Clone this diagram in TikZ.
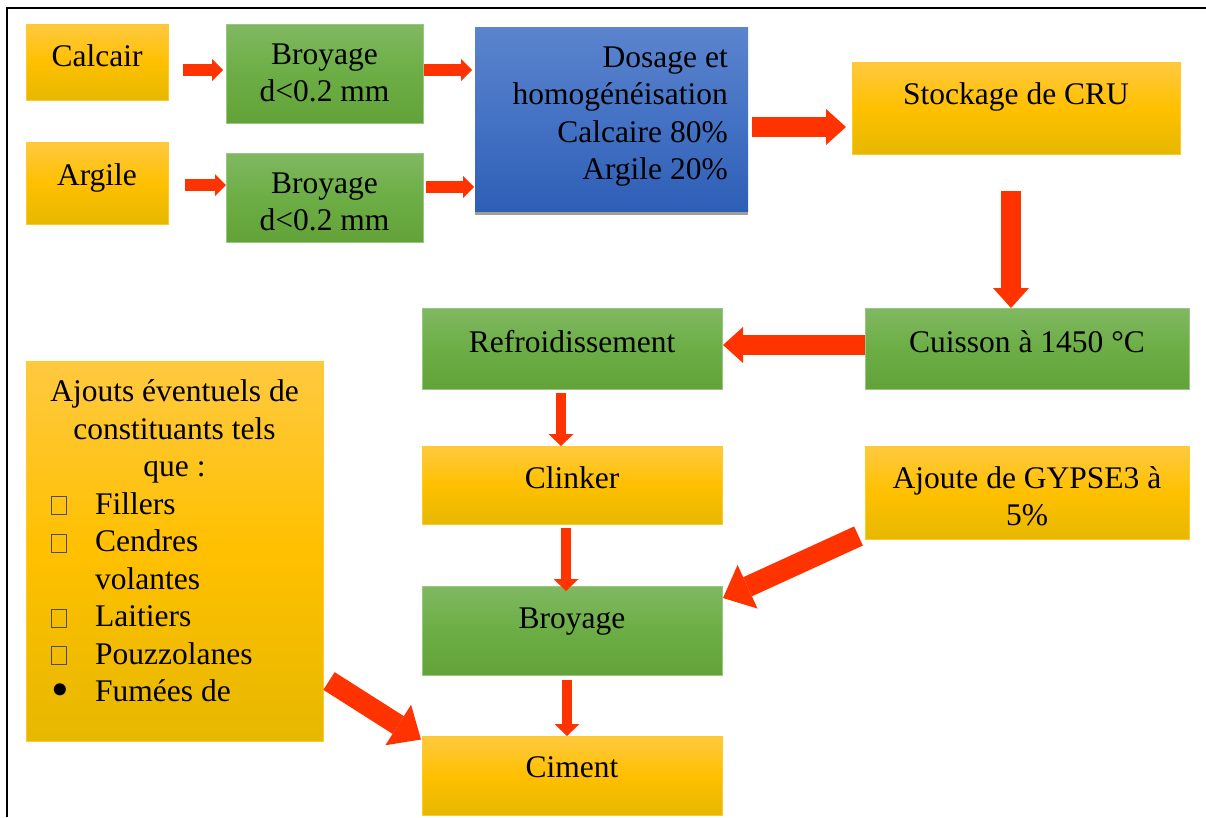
\documentclass[tikz,border=0pt]{standalone}
\usepackage{fontspec}
\setmainfont{Liberation Serif}
\newfontfamily\lserif{Liberation Serif}
\usetikzlibrary{arrows.meta}
\definecolor{ared}{HTML}{FF3300}
\definecolor{oTop}{HTML}{FFC940}
\definecolor{oMid}{HTML}{FFC000}
\definecolor{oBot}{HTML}{E6B800}
\definecolor{gTop}{HTML}{80B862}
\definecolor{gMid}{HTML}{6CAE45}
\definecolor{gBot}{HTML}{62A239}
\definecolor{bTop}{HTML}{5B84CD}
\definecolor{bMid}{HTML}{4472C4}
\definecolor{bBot}{HTML}{2E5FB6}
\newcommand\fsz{\lserif\fontsize{31.5}{37.5}\selectfont}
\newcommand\sqbul{{\color{black!70}\fboxsep=0pt\fboxrule=0.8pt\fbox{\rule{0pt}{17pt}\hspace{14.4pt}}}}
\newcommand\dotbul{\raisebox{-5pt}{\scalebox{1.6}{•}}}
\begin{document}
\begin{tikzpicture}[x=1pt,y=1pt,
  basebox/.style={anchor=north west, inner sep=0pt, outer sep=0pt},
  obox/.style={basebox, top color=oTop, bottom color=oBot, middle color=oMid, draw=oMid!85!white, line width=0.8pt},
  gbox/.style={basebox, top color=gTop, bottom color=gBot, middle color=gMid, draw=gTop!80!white, line width=0.8pt},
  bbox/.style={basebox, top color=bTop, bottom color=bBot, middle color=bMid},
  lbl/.style={font=\fsz, align=center, inner sep=0pt, anchor=north},
  arrS/.style={draw=ared, line width=12pt, -{Triangle[width=22pt,length=11pt,line width=0pt]}},
  arrV/.style={draw=ared, line width=10pt, -{Triangle[width=25pt,length=12pt,line width=0pt]}},
  arrM/.style={draw=ared, line width=20pt, -{Triangle[width=36pt,length=20pt,line width=0pt]}},
  arrD/.style={draw=ared, line width=21pt, -{Triangle[width=48pt,length=27pt,line width=0pt]}}
]
\useasboundingbox (0,0) rectangle (1206,-817);
\fill[white] (0,0) rectangle (1206,-817);
% frame
\draw[line width=2.6pt, black] (7,-817) -- (7,-8) -- (1206,-8);

% boxes
\node[obox, minimum width=142pt, minimum height=76pt] (calc) at (26,-24) {};
\node[obox, minimum width=142pt, minimum height=82pt] (arg) at (26,-142) {};
\node[gbox, minimum width=197pt, minimum height=99pt] (br1) at (226,-24) {};
\node[gbox, minimum width=197pt, minimum height=89pt] (br2) at (226,-153) {};
\fill[black!38] (475,-209) rectangle (748,-215);
\node[bbox, minimum width=273pt, minimum height=184pt] (dos) at (475,-27) {};
\node[obox, minimum width=328pt, minimum height=92pt] (sto) at (852,-62) {};
\node[gbox, minimum width=324pt, minimum height=81pt] (cui) at (865,-308) {};
\node[gbox, minimum width=300pt, minimum height=81pt] (ref) at (422,-308) {};
\node[obox, minimum width=300pt, minimum height=78pt] (cli) at (422,-446) {};
\node[obox, minimum width=324pt, minimum height=93pt] (gyp) at (865,-446) {};
\node[gbox, minimum width=300pt, minimum height=89pt] (br3) at (422,-586) {};
\node[obox, minimum width=300pt, minimum height=79pt] (cim) at (422,-736) {};
\node[obox, minimum width=297pt, minimum height=380pt] (ajo) at (26,-361) {};

% labels
\node[lbl] (tcalc) at ([yshift=-15.75pt]calc.north) {\strut Calcair};
\node[lbl] (targ) at ([yshift=-16.75pt]arg.north) {\strut Argile};
\node[lbl] (tbr1) at ([yshift=-13.75pt]br1.north) {\strut Broyage\\d<0.2 mm};
\node[lbl] (tbr2) at ([yshift=-13.75pt]br2.north) {\strut Broyage\\d<0.2 mm};
\node[lbl, align=right, anchor=north east] (tdos) at ([shift={(-20pt,-13.75pt)}]dos.north east) {\strut Dosage et\\homogénéisation\\Calcaire 80\%\\Argile 20\%};
\node[lbl] (tsto) at ([yshift=-15.75pt]sto.north) {\strut Stockage de CRU};
\node[lbl] (tcui) at ([yshift=-17.75pt]cui.north) {\strut Cuisson à 1450 °C};
\node[lbl] (tref) at ([yshift=-17.75pt]ref.north) {\strut Refroidissement};
\node[lbl] (tcli) at ([yshift=-15.75pt]cli.north) {\strut Clinker};
\node[lbl] (tgyp) at ([yshift=-15.75pt]gyp.north) {\strut Ajoute de GYPSE3 à\\5\%};
\node[lbl] (tbr3) at ([yshift=-15.75pt]br3.north) {\strut Broyage};
\node[lbl] (tcim) at ([yshift=-14.75pt]cim.north) {\strut Ciment};
\node[lbl] (tajo) at ([yshift=-14.25pt]ajo.north) {\strut Ajouts éventuels de\\constituants tels\\que :};
\node[lbl, align=left, anchor=north west] (tlist) at ([shift={(25pt,-126.75pt)}]ajo.north west)
  {\strut\makebox[44pt][l]{\sqbul}Fillers\\
   \makebox[44pt][l]{\sqbul}Cendres\\
   \hspace*{44pt}volantes\\
   \makebox[44pt][l]{\sqbul}Laitiers\\
   \makebox[44pt][l]{\sqbul}Pouzzolanes\\
   \makebox[44pt][l]{\dotbul}Fumées de};

% arrows
\draw[arrS] ([shift={(15,-8)}]calc.east) -- ([shift={(-3,3.5)}]br1.west);
\draw[arrS] ([shift={(1,3.5)}]br1.east) -- ([shift={(-3,49)}]dos.west);
\draw[arrS] ([shift={(17,-2)}]arg.east) -- ([shift={(0,12.5)}]br2.west);
\draw[arrS] ([shift={(3,10.5)}]br2.east) -- ([shift={(-1,-68)}]dos.west);
\draw[arrM] ([shift={(4,-8)}]dos.east) -- ([shift={(-6,-19)}]sto.west);
\draw[arrM] ([shift={(-5,-37)}]sto.south) -- ([shift={(-16,0)}]cui.north);
\draw[arrM] ([shift={(0,3.5)}]cui.west) -- ([shift={(1,3.5)}]ref.east);
\draw[arrV] ([shift={(-11,-4)}]ref.south) -- ([shift={(-11,0)}]cli.north);
\draw[arrV] ([shift={(-6,-4)}]cli.south) -- ([shift={(-6,-5)}]br3.north);
\draw[arrV] ([shift={(-5,-5)}]br3.south) -- ([shift={(-5,0)}]cim.north);
\draw[arrD] ([shift={(-6.5,3)}]gyp.south west) -- ([shift={(1,32.5)}]br3.east);
\draw[arrD] ([shift={(6,-130)}]ajo.east) -- ([shift={(-1,36)}]cim.west);
\end{tikzpicture}
\end{document}
